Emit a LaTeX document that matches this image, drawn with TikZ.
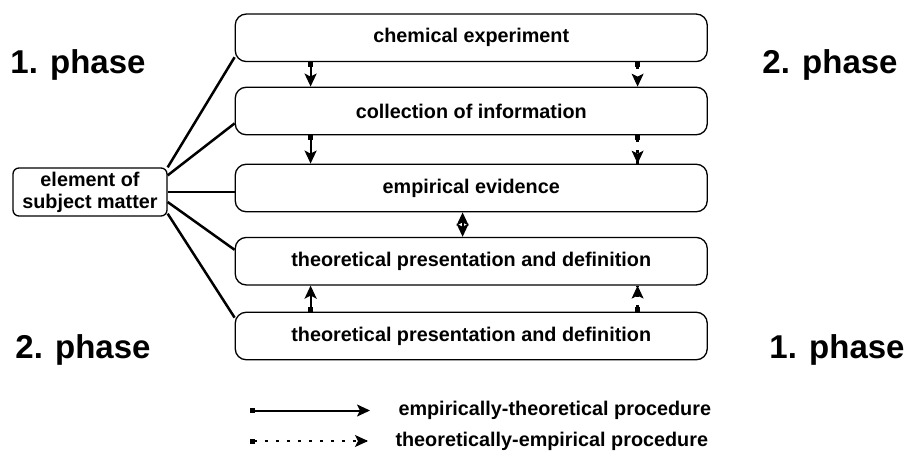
\documentclass[tikz,border=0pt]{standalone}
\usepackage{fontspec}
\setmainfont{Liberation Sans}
\usetikzlibrary{arrows.meta,positioning,decorations.markings}

\begin{document}
\begin{tikzpicture}[
        x=1pt,y=-1pt,on grid,
        >={Stealth[length=13pt,width=12pt,inset=3pt]},
        font=\bfseries\fontsize{19.8}{22}\selectfont,
        stagebox/.style={draw,line width=1.3pt,rounded corners=11pt,
          minimum width=472pt,minimum height=47.5pt,inner sep=0pt},
        subjbox/.style={draw,line width=1.3pt,rounded corners=6pt,
          minimum width=154pt,minimum height=48pt,inner sep=0pt,align=center},
        phase/.style={font=\bfseries\fontsize{33}{36}\selectfont,anchor=base},
        link/.style={line width=2.5pt},
        emp/.style={line width=2pt,{Square[length=5pt,width=5pt]}->},
        theo/.style={line width=2.5pt,dash pattern=on 3pt off 8pt,
          {Square[length=5pt,width=5pt]}-,
          postaction={decorate},
          decoration={markings,mark=at position 1 with
            {\pgfsetdash{}{0pt}\pgfsetlinewidth{1pt}\arrow{Stealth[length=13pt,width=12pt,inset=3pt]}}}},
        ]
        \useasboundingbox (0,0) rectangle (907,450);

        % stages
        \node[stagebox] (exp) at (471.25,37.8) {chemical experiment};
        \node[stagebox] (info) [below=73.2pt of exp] {collection of information};
        \node[stagebox] (evid) [below=77pt of info] {empirical evidence};
        \node[stagebox] (theo1) [below=73.2pt of evid] {theoretical presentation and definition};
        \node[stagebox] (theo2) [below=74.8pt of theo1] {theoretical presentation and definition};

        \node[subjbox] (subj) at (90,192) {element of\\subject matter};

        % phases
        \node[phase] (ph1a) at (78,73.3) {1. phase};
        \node[phase] (ph2a) at (830,73.3) {2. phase};
        \node[phase] (ph2b) at (83,358) {2. phase};
        \node[phase] (ph1b) at (837,358) {1. phase};

        % element -> stages
        \draw[link] (subj.north east) -- ([yshift=5pt]exp.south west);
        \draw[link] ([yshift=-8pt]subj.north east) -- ([yshift=12pt]info.south west);
        \draw[link] (subj.east) -- (subj.east -| evid.west);
        \draw[link] ([yshift=-10pt]subj.east) -- ([yshift=-13pt]theo1.north west);
        \draw[link] ([yshift=3pt]subj.south east) -- ([yshift=-6pt]theo2.north west);

        % procedures
        \draw[emp] ([xshift=76pt]exp.south west) -- ([xshift=76pt]info.north west);
        \draw[emp] ([xshift=76pt]info.south west) -- ([xshift=76pt]evid.north west);
        \draw[emp] ([xshift=76pt]theo2.north west) -- ([xshift=76pt]theo1.south west);
        \draw[theo] ([xshift=403pt]exp.south west) -- ([xshift=403pt]info.north west);
        \draw[theo] ([xshift=403pt]info.south west) -- ([xshift=403pt]evid.north west);
        \draw[theo] ([xshift=403pt]theo2.north west) -- ([xshift=403pt]theo1.south west);
        \draw[line width=2pt,<->] ([xshift=228pt]evid.south west) -- ([xshift=228pt]theo1.north west);

        % legend
        \coordinate (empS) at (250,410.5);
        \coordinate (empE) at (370,410.5);
        \coordinate (theoS) at (250,441);
        \coordinate (theoE) at (368,441);
        \node[anchor=west] (empL) at (395,410.5) {empirically-theoretical procedure};
        \node[anchor=west] (theoL) at (392,441) {theoretically-empirical procedure};
        \draw[emp] (empS) -- (empE);
        \draw[theo] (theoS) -- (theoE);
      \end{tikzpicture}
\end{document}
